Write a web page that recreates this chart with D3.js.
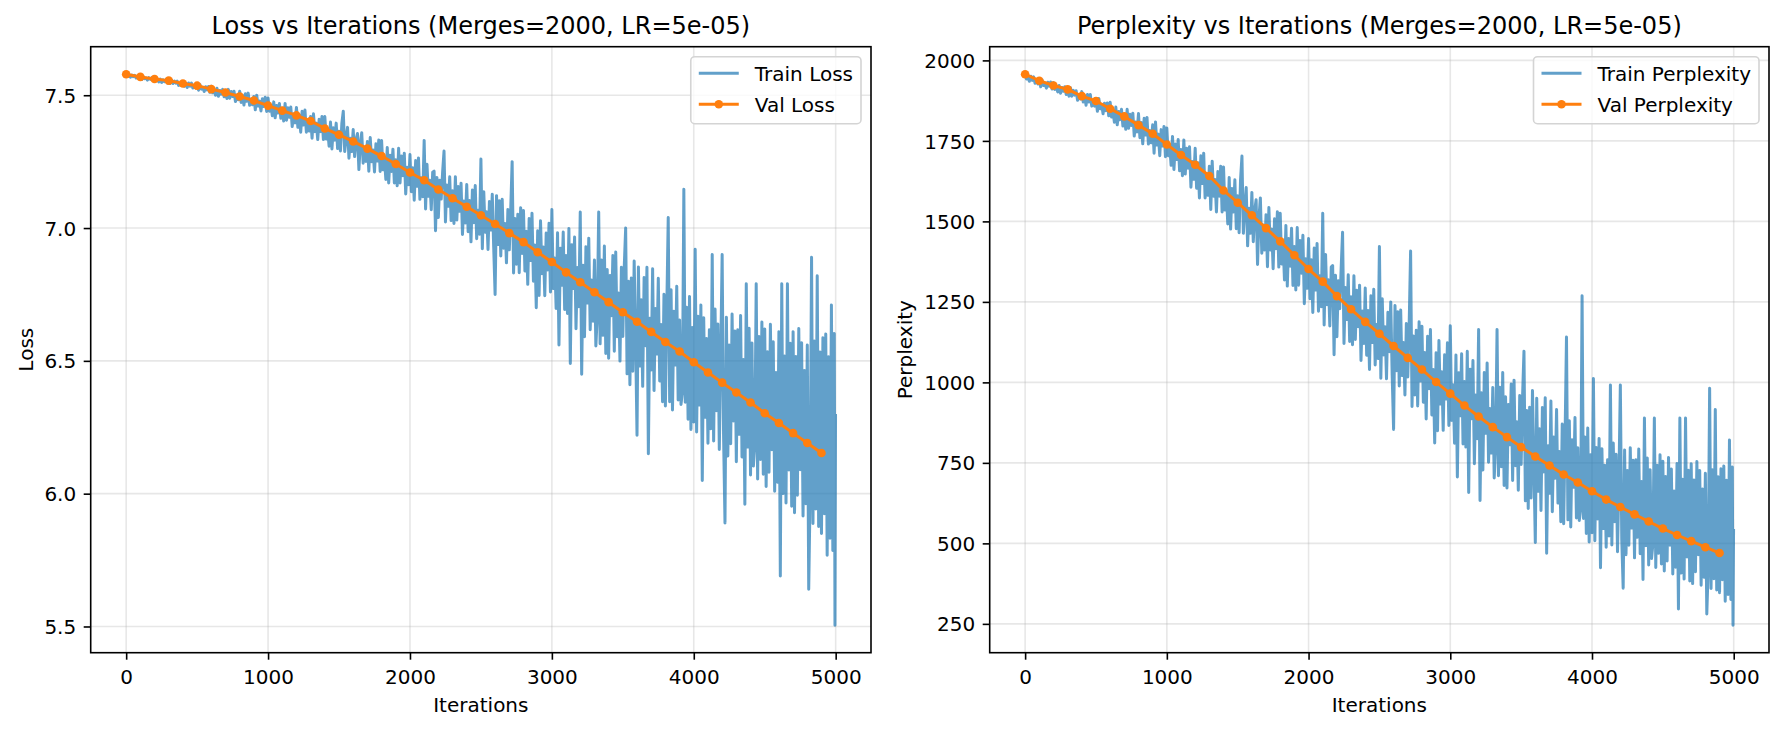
<!DOCTYPE html>
<html>
<head>
<meta charset="utf-8">
<script src="https://cdn.jsdelivr.net/npm/d3@7/dist/d3.min.js"></script>
<style>
  body { margin: 0; background: #fff; }
  text { font-family: "DejaVu Sans", sans-serif; fill: #000; }
</style>
</head>
<body>
<div id="chart"></div>
<script>
var trainStep = 10;
var trainTail = [4995, 4999];

// one row per 100 iterations
var trainLoss = [
  7.578,7.572,7.576,7.568,7.576,7.570,7.575,7.565,7.569,7.564,
  7.570,7.559,7.570,7.562,7.565,7.557,7.566,7.560,7.566,7.556,
  7.566,7.555,7.559,7.550,7.561,7.548,7.558,7.551,7.559,7.546,
  7.554,7.544,7.557,7.544,7.553,7.545,7.553,7.537,7.546,7.539,
  7.551,7.534,7.544,7.529,7.546,7.534,7.546,7.527,7.536,7.527,
  7.539,7.519,7.540,7.523,7.530,7.514,7.532,7.520,7.533,7.511,
  7.534,7.509,7.519,7.500,7.526,7.496,7.518,7.504,7.522,7.494,
  7.513,7.488,7.522,7.489,7.514,7.495,7.515,7.476,7.501,7.483,
  7.515,7.473,7.499,7.463,7.506,7.477,7.508,7.462,7.485,7.464,
  7.495,7.445,7.500,7.459,7.478,7.441,7.487,7.458,7.492,7.439,
  7.490,7.440,7.460,7.423,7.475,7.415,7.461,7.433,7.469,7.413,
  7.451,7.403,7.469,7.406,7.453,7.417,7.456,7.382,7.429,7.396,
  7.454,7.379,7.426,7.361,7.440,7.388,7.444,7.361,7.404,7.365,
  7.420,7.338,7.430,7.363,7.395,7.333,7.410,7.363,7.420,7.333,
  7.420,7.335,7.371,7.308,7.399,7.298,7.378,7.331,7.395,7.299,
  7.364,7.290,7.395,7.440,7.288,7.340,7.379,7.263,7.338,7.288,
  7.371,7.269,7.334,7.356,7.220,7.319,7.359,7.244,7.303,7.251,
  7.326,7.214,7.341,7.250,7.294,7.211,7.317,7.252,7.331,7.213,
  7.330,7.219,7.266,7.183,7.303,7.170,7.274,7.213,7.297,7.170,
  7.257,7.159,7.300,7.170,7.271,7.197,7.282,7.128,7.229,7.163,
  7.277,7.137,7.227,7.105,7.254,7.157,7.264,7.108,7.189,7.118,
  7.330,7.072,7.240,7.120,7.180,7.069,7.210,7.214,6.990,7.190,
  7.040,7.180,7.109,7.211,7.290,7.023,7.162,7.082,7.193,7.028,
  7.140,7.017,7.193,7.030,7.156,7.063,7.169,6.976,7.102,7.019,
  7.164,6.986,7.104,6.948,7.143,7.020,7.160,6.960,7.067,6.977,
  7.260,6.922,7.137,6.984,7.061,6.919,7.100,6.993,7.127,6.928,
  6.750,7.122,6.938,7.103,6.895,7.108,6.924,7.017,6.869,7.070,
  6.918,7.071,7.250,6.831,7.036,6.864,7.052,6.832,7.076,6.904,
  7.066,6.838,6.988,6.788,7.036,6.878,7.056,6.800,6.936,6.700,
  6.990,6.746,7.027,6.828,6.929,6.745,6.981,6.842,7.018,6.759,
  7.070,6.772,6.887,6.697,6.982,6.560,6.924,6.785,6.985,6.693,
  6.897,6.678,6.998,6.490,6.937,6.772,6.966,6.621,6.851,6.704,
  7.060,6.450,6.860,6.591,6.930,6.718,6.962,6.617,6.804,6.649,
  6.880,6.556,6.672,7.060,6.564,6.880,6.596,6.932,6.528,6.844,
  6.510,6.821,6.670,6.897,6.536,6.910,6.591,6.755,6.499,6.852,
  6.592,6.853,7.000,6.451,6.800,6.410,6.812,6.461,6.876,6.587,
  6.220,6.853,6.481,6.730,6.404,6.814,6.557,6.852,6.150,6.660,
  6.466,6.847,6.388,6.697,6.526,6.811,6.424,6.637,6.346,6.751,
  6.330,6.702,7.040,6.346,6.768,6.315,6.687,6.484,6.781,6.353,
  6.654,6.336,6.382,7.146,6.344,6.702,6.280,6.742,6.242,6.626,
  6.270,6.920,6.232,6.668,6.334,6.710,6.050,6.662,6.288,6.584,
  6.190,6.617,6.244,6.900,6.198,6.695,6.312,6.639,6.166,6.523,
  6.900,6.218,5.890,6.664,6.142,6.560,6.188,6.676,6.274,6.612,
  6.120,6.617,6.224,6.671,6.138,6.505,5.960,6.790,6.176,6.623,
  6.070,6.567,6.104,6.181,6.790,6.055,6.592,6.129,6.646,6.073,
  6.620,6.027,6.534,6.081,6.638,6.165,6.572,6.009,6.456,6.043,
  6.610,5.690,6.790,6.001,6.518,5.965,6.790,6.089,6.566,5.953,
  6.610,5.928,6.516,5.994,6.622,6.090,6.568,5.916,6.464,5.962,
  6.560,5.640,6.004,6.890,5.888,6.575,5.942,6.820,5.876,6.533,
  5.850,6.587,5.924,6.601,5.768,6.515,5.832,6.710,5.786,6.603,
  5.505,6.300
];

var trainPpl = [
  1955,1942,1951,1935,1951,1938,1949,1929,1937,1927,
  1938,1918,1939,1922,1929,1914,1932,1920,1933,1911,
  1931,1910,1918,1902,1922,1898,1916,1904,1918,1894,
  1909,1889,1915,1889,1907,1892,1906,1876,1894,1880,
  1903,1871,1890,1861,1894,1871,1894,1858,1875,1858,
  1880,1842,1882,1850,1863,1834,1867,1844,1868,1828,
  1870,1824,1842,1808,1855,1800,1841,1816,1848,1796,
  1831,1786,1848,1789,1833,1798,1836,1765,1809,1778,
  1835,1760,1807,1741,1820,1768,1823,1740,1782,1744,
  1800,1712,1809,1737,1771,1704,1785,1734,1795,1701,
  1790,1704,1738,1674,1764,1661,1740,1692,1754,1657,
  1723,1642,1753,1647,1727,1665,1732,1606,1686,1631,
  1727,1603,1682,1573,1704,1618,1712,1573,1644,1581,
  1671,1537,1687,1578,1630,1529,1655,1578,1671,1529,
  1669,1535,1592,1492,1636,1476,1602,1529,1629,1477,
  1580,1465,1629,1703,1463,1543,1605,1424,1541,1463,
  1590,1437,1534,1567,1366,1512,1573,1401,1489,1411,
  1521,1359,1543,1411,1476,1353,1508,1415,1530,1358,
  1525,1368,1434,1318,1487,1299,1447,1361,1479,1301,
  1422,1287,1481,1302,1441,1339,1457,1244,1384,1292,
  1447,1260,1381,1217,1417,1287,1431,1221,1331,1235,
  1525,1178,1397,1241,1319,1175,1358,1363,1086,1333,
  1142,1316,1229,1355,1466,1121,1295,1195,1334,1127,
  1266,1117,1331,1133,1286,1173,1302,1068,1222,1121,
  1293,1084,1223,1040,1269,1124,1289,1054,1180,1074,
  1422,1013,1260,1085,1173,1011,1218,1095,1250,1022,
  854,1239,1036,1219,989,1225,1021,1124,961,1183,
  1017,1181,1408,925,1144,961,1162,927,1188,1004,
  1174,938,1093,886,1143,980,1164,899,1040,812,
  1092,850,1130,933,1033,851,1086,948,1123,866,
  1176,882,993,811,1085,706,1030,896,1089,809,
  1003,799,1097,658,1041,887,1068,747,961,825,
  1164,633,968,728,1031,842,1060,752,919,781,
  984,703,804,1164,710,985,738,1031,680,955,
  672,931,806,995,695,1007,741,878,665,959,
  745,955,1097,632,913,608,923,641,975,742,
  503,951,662,856,602,922,722,952,469,803,
  656,942,598,830,702,916,625,785,567,871,
  561,832,1141,573,881,551,822,674,891,579,
  797,571,604,1269,577,830,531,858,504,775,
  533,1012,508,798,576,826,424,794,546,743,
  488,760,523,992,495,812,567,777,474,702,
  992,512,361,790,465,726,494,797,548,758,
  455,760,519,793,468,692,388,889,493,765,
  433,729,453,499,889,425,743,469,775,436,
  755,414,708,445,767,494,731,405,663,426,
  748,296,889,408,699,389,889,458,727,383,
  747,375,697,412,754,465,726,370,669,395,
  718,281,422,982,360,729,390,916,355,707,
  347,732,387,740,320,696,341,821,326,737,
  246,545
];

var valIters = [0,100,200,300,400,500,600,700,800,900,1000,1100,1200,1300,1400,1500,1600,1700,1800,1900,
  2000,2100,2200,2300,2400,2500,2600,2700,2800,2900,3000,3100,3200,3300,3400,3500,3600,3700,3800,3900,
  4000,4100,4200,4300,4400,4500,4600,4700,4800,4900];

var valLoss = [7.579,7.569,7.561,7.555,7.544,7.536,7.523,7.510,7.495,7.480,
  7.461,7.442,7.424,7.403,7.375,7.351,7.326,7.299,7.271,7.241,
  7.209,7.180,7.145,7.112,7.080,7.048,7.015,6.981,6.947,6.909,
  6.872,6.833,6.796,6.758,6.721,6.683,6.647,6.609,6.571,6.535,
  6.495,6.456,6.418,6.381,6.343,6.303,6.266,6.228,6.191,6.153];

var valPpl = [1957,1937,1922,1910,1889,1874,1850,1826,1799,1772,
  1739,1706,1676,1641,1596,1558,1519,1479,1438,1395,
  1352,1313,1268,1227,1188,1151,1113,1076,1040,1001,
  965,928,894,861,830,799,770,742,714,689,
  662,636,613,590,568,546,526,507,488,470];

var xTicks = [0, 1000, 2000, 3000, 4000, 5000];
var lossTicks = [5.5, 6.0, 6.5, 7.0, 7.5];
var pplTicks = [250, 500, 750, 1000, 1250, 1500, 1750, 2000];

var trainIters = d3.range(0, 5000, trainStep).concat(trainTail);

// ---- layout ----
var width = 1784, height = 731;
var axTop = 46.7, axBottom = 652.7;
var blue = "#1f77b4", orange = "#ff7f0e";

var panels = [
  {left: 90.7, right: 871, title: "Loss vs Iterations (Merges=2000, LR=5e-05)", ylabel: "Loss", ylabelX: 32.7,
   train: trainLoss, val: valLoss, yticks: lossTicks, fmt: d3.format(".1f"),
   names: ["Train Loss", "Val Loss"]},
  {left: 989.7, right: 1769, title: "Perplexity vs Iterations (Merges=2000, LR=5e-05)", ylabel: "Perplexity", ylabelX: 912,
   train: trainPpl, val: valPpl, yticks: pplTicks, fmt: d3.format("d"),
   names: ["Train Perplexity", "Val Perplexity"]}
];

var svg = d3.select("#chart").append("svg")
    .attr("width", width)
    .attr("height", height);

svg.append("rect").attr("width", width).attr("height", height).attr("fill", "#fff");

// matplotlib-style 5% padding around the data range
function margin(ext) {
  var pad = (ext[1] - ext[0]) * 0.05;
  return [ext[0] - pad, ext[1] + pad];
}

panels.forEach(function(p, k) {
  var x = d3.scaleLinear()
      .domain(margin(d3.extent(trainIters)))
      .range([p.left, p.right]);

  var y = d3.scaleLinear()
      .domain(margin(d3.extent(p.train.concat(p.val))))
      .range([axBottom, axTop]);

  var g = svg.append("g");

  g.append("clipPath").attr("id", "clip" + k)
    .append("rect")
    .attr("x", p.left).attr("y", axTop)
    .attr("width", p.right - p.left).attr("height", axBottom - axTop);

  // grid
  var grid = g.append("g").attr("stroke", "#b0b0b0").attr("stroke-opacity", 0.3).attr("stroke-width", 1.6);
  grid.selectAll(".gx").data(xTicks).enter().append("line")
    .attr("x1", d => x(d)).attr("x2", d => x(d))
    .attr("y1", axTop).attr("y2", axBottom);
  grid.selectAll(".gy").data(p.yticks).enter().append("line")
    .attr("x1", p.left).attr("x2", p.right)
    .attr("y1", d => y(d)).attr("y2", d => y(d));

  var plot = g.append("g").attr("clip-path", "url(#clip" + k + ")");

  var line = d3.line()
      .x(d => x(d[0]))
      .y(d => y(d[1]));

  plot.append("path")
    .datum(trainIters.map((t, i) => [t, p.train[i]]))
    .attr("d", line)
    .attr("fill", "none")
    .attr("stroke", blue)
    .attr("stroke-opacity", 0.7)
    .attr("stroke-width", 3)
    .attr("stroke-linejoin", "round");

  var valData = valIters.map((t, i) => [t, p.val[i]]);
  plot.append("path")
    .datum(valData)
    .attr("d", line)
    .attr("fill", "none")
    .attr("stroke", orange)
    .attr("stroke-width", 3)
    .attr("stroke-linejoin", "round");

  plot.selectAll(".dot").data(valData).enter().append("circle")
    .attr("cx", d => x(d[0]))
    .attr("cy", d => y(d[1]))
    .attr("r", 4.3)
    .attr("fill", orange);

  // axes
  var xAxis = g.append("g")
    .attr("transform", "translate(0," + axBottom + ")")
    .call(d3.axisBottom(x).tickValues(xTicks).tickSize(7).tickFormat(d3.format("d")));
  xAxis.select(".domain").remove();
  xAxis.selectAll("line").attr("stroke", "#000").attr("stroke-width", 1.6);
  xAxis.selectAll("text").attr("y", 31).attr("dy", null)
    .style("font-size", "20px").style("font-family", "DejaVu Sans, sans-serif").attr("fill", "#000");

  var yAxis = g.append("g")
    .attr("transform", "translate(" + p.left + ",0)")
    .call(d3.axisLeft(y).tickValues(p.yticks).tickSize(7).tickFormat(p.fmt));
  yAxis.select(".domain").remove();
  yAxis.selectAll("line").attr("stroke", "#000").attr("stroke-width", 1.6);
  yAxis.selectAll("text").attr("x", -14.5).attr("dy", "0.355em")
    .style("font-size", "20px").style("font-family", "DejaVu Sans, sans-serif").attr("fill", "#000");

  // spines
  g.append("rect")
    .attr("x", p.left).attr("y", axTop)
    .attr("width", p.right - p.left).attr("height", axBottom - axTop)
    .attr("fill", "none").attr("stroke", "#000").attr("stroke-width", 1.6);

  // titles and labels
  var cx = (p.left + p.right) / 2;
  g.append("text").attr("x", cx).attr("y", 34)
    .attr("text-anchor", "middle").style("font-size", "24px").text(p.title);
  g.append("text").attr("x", cx).attr("y", 711.5)
    .attr("text-anchor", "middle").style("font-size", "20px").text("Iterations");
  var cy = (axTop + axBottom) / 2;
  g.append("text").attr("x", p.ylabelX).attr("y", cy)
    .attr("text-anchor", "middle")
    .attr("transform", "rotate(-90," + p.ylabelX + "," + cy + ")")
    .style("font-size", "20px").text(p.ylabel);

  // legend
  var leg = g.append("g");
  var box = leg.append("rect");
  var labels = p.names.map(function(n) {
    return leg.append("text").style("font-size", "20px").text(n);
  });
  var tw = d3.max(labels, t => t.node().getComputedTextLength());
  var bw = 8 + 40 + 16 + tw + 8;
  var bx = p.right - 10 - bw, by = axTop + 10;
  box.attr("x", bx).attr("y", by).attr("width", bw).attr("height", 67)
    .attr("rx", 4).attr("fill", "#fff").attr("fill-opacity", 0.8)
    .attr("stroke", "#d4d4d4").attr("stroke-width", 1.6);
  [16.5, 47.5].forEach(function(dy, i) {
    var hy = by + dy;
    leg.append("line")
      .attr("x1", bx + 8).attr("x2", bx + 48)
      .attr("y1", hy).attr("y2", hy)
      .attr("stroke", i === 0 ? blue : orange)
      .attr("stroke-opacity", i === 0 ? 0.7 : 1)
      .attr("stroke-width", 3);
    if (i === 1) {
      leg.append("circle").attr("cx", bx + 28).attr("cy", hy).attr("r", 4.3).attr("fill", orange);
    }
    labels[i].attr("x", bx + 64).attr("y", hy + 7.4).raise();
  });
});
</script>
</body>
</html>
